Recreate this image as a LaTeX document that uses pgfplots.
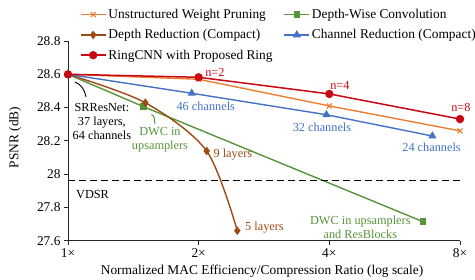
\documentclass[border=0pt]{standalone}
\usepackage{fontspec}
\setmainfont{Liberation Serif}
\usepackage{pgfplots}
\pgfplotsset{compat=1.18}
\definecolor{cOrange}{RGB}{237,125,49}
\definecolor{cGreen}{RGB}{88,148,58}
\definecolor{cBrown}{RGB}{158,74,20}
\definecolor{cBlue}{RGB}{68,114,196}
\definecolor{cRed}{RGB}{200,8,18}
\newcommand{\bigf}{\fontsize{13.4bp}{16bp}\selectfont}
\newcommand{\annf}{\fontsize{12.3bp}{14bp}\selectfont}
\begin{document}
\begin{tikzpicture}
\useasboundingbox (0,0) rectangle (475bp,280bp);
\begin{axis}[
  at={(68bp,39.3bp)}, anchor=south west,
  scale only axis, width=392bp, height=199.7bp,
  xmode=log, log basis x=2,
  xmin=1, xmax=8, ymin=27.6, ymax=28.8,
  xtick={1,2,4,8}, xticklabels={1×,2×,4×,8×},
  ytick={27.6,27.8,28,28.2,28.4,28.6,28.8},
  yticklabels={27.6,27.8,28,28.2,28.4,28.6,28.8},
  axis lines=left,
  axis line style={-, line width=0.9bp, black!85},
  tick align=outside, major tick length=4bp,
  tick style={line width=0.8bp, black!85},
  ticklabel style={font=\bigf},
  clip=false,
  xlabel={Normalized MAC Efficiency/Compression Ratio (log scale)},
  ylabel={PSNR (dB)},
  label style={font=\bigf},
  xlabel style={at={(axis description cs:0.495,-0.155)}, anchor=center},
  ylabel style={at={(axis description cs:-0.135,0.517)}, anchor=center},
  legend columns=2,
  legend cell align=left,
  legend image code/.code={\draw[mark repeat=2,mark phase=2,#1] plot coordinates {(0bp,0bp) (12.5bp,0bp) (25bp,0bp)};},
  legend style={at={(axis description cs:0.03,1.17)}, anchor=north west, draw=none, fill=none, font=\bigf, inner sep=0pt,
    row sep=5.5bp,
    /tikz/every even column/.append style={column sep=9bp}},
]
\addplot[cOrange, line width=1.4bp, mark=x, mark size=3.5bp, mark options={line width=1.1bp}]
  coordinates {(1,28.6) (2,28.57) (4,28.41) (8,28.26)};
\addlegendentry{Unstructured Weight Pruning}
\addplot[cGreen, line width=1.4bp, mark=square*, mark size=2.6bp]
  coordinates {(1,28.6) (1.494,28.405) (6.58,27.714)};
\addlegendentry{Depth-Wise Convolution}
\addplot[cBrown, line width=1.4bp, mark=diamond*, mark size=3.2bp, smooth]
  coordinates {(1,28.6) (1.507,28.429) (2.087,28.139) (2.455,27.66)};
\addlegendentry{Depth Reduction (Compact)}
\addplot[cBlue, line width=1.4bp, mark=triangle*, mark size=3.4bp]
  coordinates {(1,28.6) (1.928,28.486) (3.94,28.357) (6.91,28.229)};
\addlegendentry{Channel Reduction (Compact)}
\addplot[cRed, line width=1.5bp, mark=*, mark size=3.4bp]
  coordinates {(1,28.6) (2,28.582) (4,28.482) (8,28.331)};
\addlegendentry{RingCNN with Proposed Ring}
\addplot[black, line width=1.3bp, dash pattern=on 7bp off 4bp, forget plot]
  coordinates {(1,27.96) (8,27.96)};

% annotations
\node[font=\annf, text=cRed, inner sep=0pt] at (axis cs:2.18,28.614) {n=2};
\node[font=\annf, text=cRed, inner sep=0pt] at (axis cs:4.23,28.53) {n=4};
\node[font=\annf, text=cRed, inner sep=0pt] at (axis cs:8.04,28.40) {n=8};
\node[font=\annf, text=cBlue, inner sep=0pt] at (axis cs:2.077,28.405) {46 channels};
\node[font=\annf, text=cBlue, inner sep=0pt] at (axis cs:3.848,28.279) {32 channels};
\node[font=\annf, text=cBlue, inner sep=0pt] at (axis cs:6.88,28.161) {24 channels};
\node[font=\annf, text=black, inner sep=0pt, align=center] at (axis cs:1.197,28.315) {SRResNet:\\37 layers,\\64 channels};
\draw[black, line width=0.9bp] (axis cs:1.038,28.554) to[out=-25,in=100] (axis cs:1.100,28.464);
\node[font=\annf, text=cGreen, inner sep=0pt, align=center] at (axis cs:1.629,28.205) {DWC in\\upsamplers};
\draw[cGreen, line width=0.9bp] (axis cs:1.557,28.358) to[out=-20,in=100] (axis cs:1.586,28.301);
\node[font=\annf, text=cBrown, inner sep=0pt, anchor=west] at (axis cs:2.162,28.115) {9 layers};
\node[font=\annf, text=cBrown, inner sep=0pt, anchor=west] at (axis cs:2.557,27.68) {5 layers};
\node[font=\annf, text=cGreen, inner sep=0pt, align=center] at (axis cs:4.715,27.678) {DWC in upsamplers\\and ResBlocks};
\node[font=\annf, text=black, inner sep=0pt] at (axis cs:1.139,27.875) {VDSR};
\end{axis}
\end{tikzpicture}
\end{document}
